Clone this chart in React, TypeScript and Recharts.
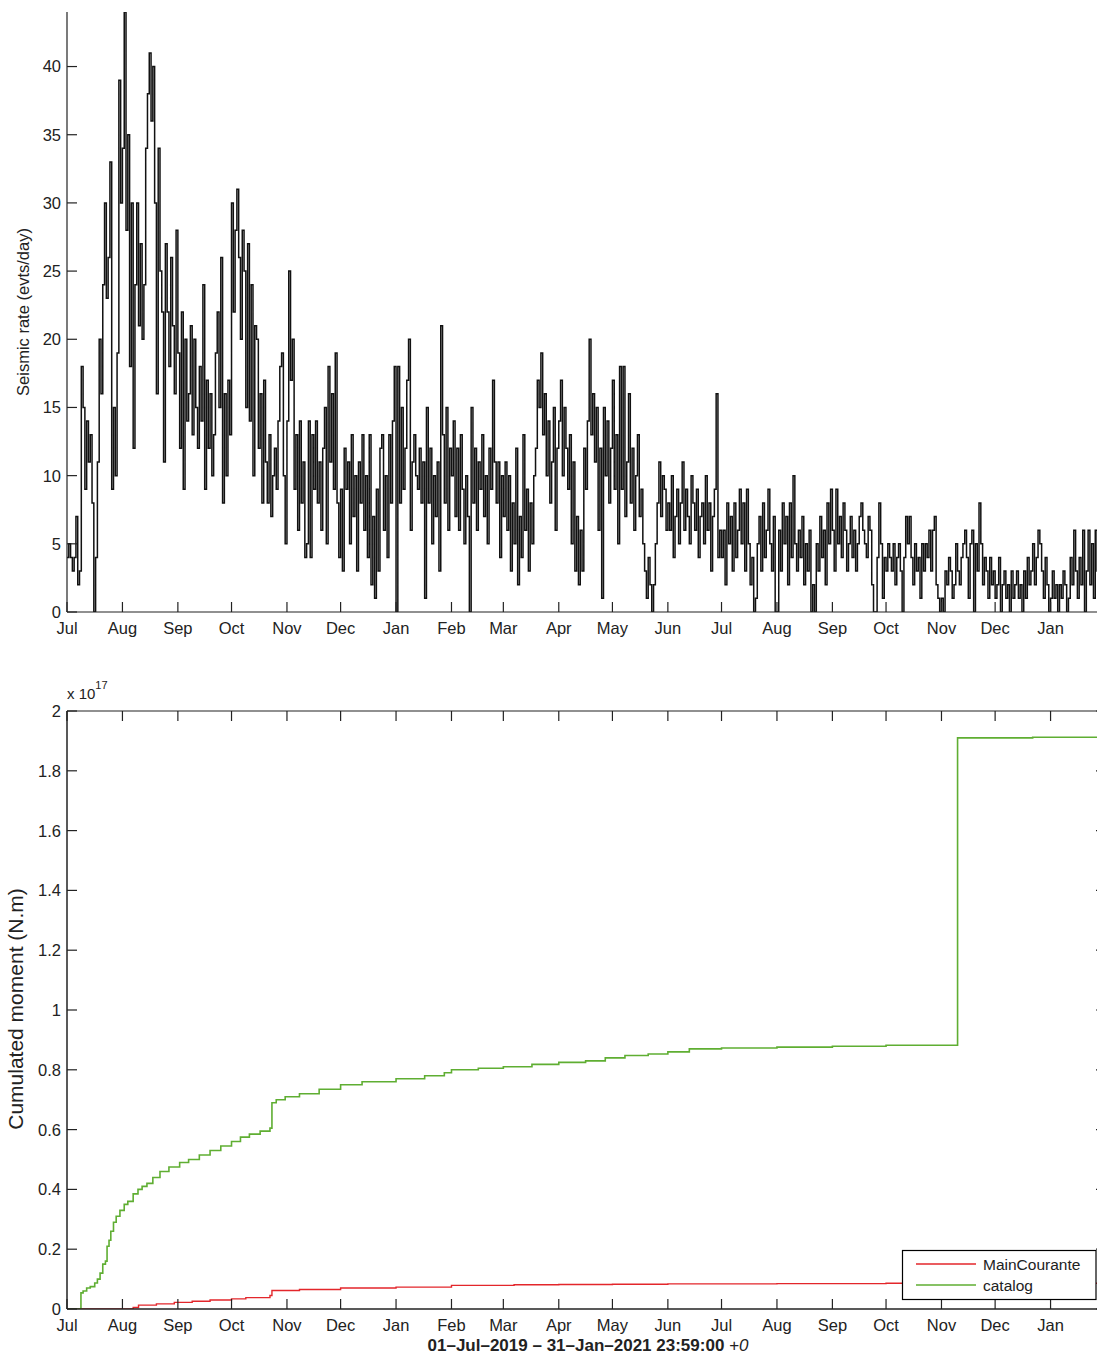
import React from 'react';
import { LineChart, Line, XAxis, YAxis } from 'recharts';

const FONT = "'Liberation Sans', Arial, Helvetica, sans-serif";
const AXIS = '#222';
const RED = '#e3262b';
const GREEN = '#5fae32';

// month ticks, day index counted from 01-Jul-2019
const MONTH_LABELS = ['Jul', 'Aug', 'Sep', 'Oct', 'Nov', 'Dec', 'Jan', 'Feb', 'Mar', 'Apr', 'May', 'Jun', 'Jul', 'Aug', 'Sep', 'Oct', 'Nov', 'Dec', 'Jan'];
const MONTH_START_DAYS = [0, 31, 62, 92, 123, 153, 184, 215, 244, 275, 305, 336, 366, 397, 428, 458, 489, 519, 550];
const RATE_TICKS = [0, 5, 10, 15, 20, 25, 30, 35, 40];
const MOMENT_TICKS = [0, 0.2, 0.4, 0.6, 0.8, 1, 1.2, 1.4, 1.6, 1.8, 2];

// daily seismic rate (evts/day), one array per month
const rateJul19 = [4, 5, 4, 3, 4, 7, 2, 3, 18, 15, 9, 14, 11, 13, 8, 0, 4, 11, 20, 16, 24, 30, 23, 26, 33, 9, 15, 10, 19, 39, 30];
const rateAug19 = [34, 44, 28, 35, 18, 30, 12, 24, 30, 21, 27, 20, 24, 34, 38, 41, 36, 40, 30, 16, 34, 25, 22, 11, 27, 22, 18, 26, 21, 16, 28];
const rateSep19 = [19, 12, 22, 9, 20, 14, 16, 21, 13, 20, 15, 12, 18, 14, 24, 9, 17, 12, 16, 10, 13, 19, 22, 15, 26, 8, 16, 10, 17, 13];
const rateOct19 = [30, 22, 28, 31, 26, 20, 28, 25, 15, 27, 14, 24, 10, 21, 20, 12, 16, 8, 17, 11, 8, 13, 7, 10, 12, 9, 14, 18, 19, 10, 5];
const rateNov19 = [14, 25, 17, 20, 9, 13, 6, 14, 8, 11, 4, 5, 14, 4, 13, 9, 14, 8, 11, 6, 12, 15, 5, 18, 11, 16, 9, 19, 8, 4];
const rateDec19 = [9, 3, 12, 9, 11, 5, 13, 7, 10, 3, 11, 8, 13, 6, 10, 4, 13, 2, 7, 1, 9, 3, 12, 13, 6, 10, 4, 13, 8, 14, 18];
const rateJan20 = [0, 18, 8, 15, 9, 12, 17, 20, 6, 11, 13, 10, 9, 12, 8, 11, 1, 15, 8, 12, 5, 10, 7, 11, 3, 21, 13, 8, 15, 6, 12];
const rateFeb20 = [10, 14, 7, 12, 6, 13, 9, 5, 10, 7, 0, 15, 8, 12, 6, 11, 9, 13, 7, 10, 5, 12, 9, 17, 11, 8, 11, 4, 10];
const rateMar20 = [7, 11, 6, 10, 3, 8, 5, 12, 2, 7, 4, 13, 6, 9, 3, 8, 5, 10, 12, 17, 15, 19, 13, 16, 10, 14, 8, 11, 15, 6, 12];
const rateApr20 = [14, 17, 10, 15, 12, 9, 13, 5, 11, 3, 7, 2, 6, 3, 12, 9, 14, 20, 13, 16, 11, 15, 6, 12, 1, 15, 10, 14, 8, 12];
const rateMay20 = [17, 9, 13, 5, 18, 9, 18, 7, 11, 16, 8, 12, 6, 10, 13, 7, 9, 5, 3, 1, 4, 2, 0, 2, 5, 8, 11, 7, 10, 9, 6];
const rateJun20 = [8, 6, 10, 4, 7, 9, 5, 8, 11, 6, 9, 7, 5, 10, 8, 6, 9, 4, 7, 8, 5, 10, 6, 8, 3, 7, 9, 16, 4, 6];
const rateJul20 = [4, 6, 2, 8, 5, 7, 3, 8, 4, 6, 9, 5, 8, 3, 9, 5, 2, 4, 0, 1, 5, 7, 3, 8, 4, 6, 9, 5, 3, 7, 0];
const rateAug20 = [0, 6, 3, 8, 5, 7, 2, 8, 4, 10, 5, 3, 6, 4, 7, 2, 5, 3, 6, 0, 2, 0, 5, 3, 7, 4, 6, 2, 8, 5, 9];
const rateSep20 = [6, 3, 9, 5, 7, 4, 8, 6, 3, 5, 7, 4, 6, 3, 5, 7, 8, 6, 5, 4, 7, 6, 2, 0, 0, 4, 8, 5, 1, 4];
const rateOct20 = [3, 5, 4, 3, 5, 2, 4, 5, 3, 0, 4, 7, 5, 7, 4, 2, 5, 3, 4, 1, 5, 3, 5, 4, 6, 3, 6, 7, 2, 1, 0];
const rateNov20 = [1, 0, 3, 2, 4, 3, 1, 2, 5, 3, 2, 4, 5, 6, 4, 1, 5, 6, 0, 5, 3, 8, 5, 2, 4, 3, 1, 4, 2, 3];
const rateDec20 = [1, 2, 4, 0, 2, 3, 1, 2, 0, 3, 1, 2, 3, 1, 2, 0, 3, 1, 4, 2, 3, 5, 2, 4, 6, 5, 3, 1, 4, 2, 0];
const rateJan21 = [1, 3, 1, 2, 0, 2, 1, 3, 2, 0, 1, 4, 2, 6, 3, 1, 4, 2, 6, 0, 3, 6, 2, 5, 1, 6, 3, 0, 5, 2, 4];

// cumulated moment, units of 1e17 N.m (day, value)
const catalogDays = [0, 4.5, 7.8, 9, 11, 13, 15.5, 17, 18.5, 20, 21.5, 22.4, 23.5, 24.5, 26, 27.5, 29.6, 32, 34, 37, 39.7, 42, 44.7, 48, 52, 57, 63, 68, 74, 80, 86, 92, 97, 102, 108, 113.5, 114.6, 117, 122, 130, 141, 153, 165, 184, 200, 211, 215, 230, 244, 260, 275, 290, 301, 312, 325, 336, 348, 366, 397, 428, 458, 498, 540, 581];
const catalogMoment = [0, 0, 0.054, 0.06, 0.07, 0.075, 0.087, 0.1, 0.12, 0.15, 0.16, 0.21, 0.23, 0.26, 0.29, 0.31, 0.33, 0.35, 0.36, 0.385, 0.4, 0.41, 0.42, 0.44, 0.46, 0.475, 0.49, 0.5, 0.515, 0.53, 0.545, 0.56, 0.575, 0.585, 0.595, 0.605, 0.69, 0.7, 0.71, 0.72, 0.735, 0.75, 0.76, 0.77, 0.78, 0.79, 0.8, 0.805, 0.81, 0.818, 0.825, 0.83, 0.84, 0.848, 0.853, 0.86, 0.87, 0.873, 0.876, 0.879, 0.882, 1.91, 1.912, 1.913];
const mainCouranteDays = [0, 37, 40, 50, 60, 70, 80, 92, 100, 113.5, 114.6, 130, 153, 184, 215, 250, 275, 305, 336, 397, 458, 581];
const mainCouranteMoment = [0, 0.005, 0.013, 0.017, 0.022, 0.026, 0.03, 0.034, 0.038, 0.045, 0.062, 0.065, 0.07, 0.073, 0.079, 0.081, 0.082, 0.083, 0.084, 0.085, 0.086, 0.087];

const rateMonths = [rateJul19, rateAug19, rateSep19, rateOct19, rateNov19, rateDec19, rateJan20, rateFeb20, rateMar20, rateApr20, rateMay20, rateJun20, rateJul20, rateAug20, rateSep20, rateOct20, rateNov20, rateDec20, rateJan21];
const rateData = rateMonths.flatMap((arr, m) => arr.map((v, i) => ({ day: MONTH_START_DAYS[m] + i, rate: v })));
const catalogData = catalogDays.map((d, i) => ({ day: d, m: catalogMoment[i] }));
const mainCouranteData = mainCouranteDays.map((d, i) => ({ day: d, m: mainCouranteMoment[i] }));

const monthLabel = (v: number) => MONTH_LABELS[MONTH_START_DAYS.indexOf(v)] ?? '';
const momentLabel = (v: number) => (Number.isInteger(v) ? String(v) : v.toFixed(1));

const BottomTick = (props: any) => {
  const { x, y, payload, fontSize } = props;
  return (
    <g>
      <line x1={x} y1={y} x2={x} y2={y - 10} stroke={AXIS} strokeWidth={1.2} />
      <text x={x} y={y + 10} dy="0.72em" textAnchor="middle" fontSize={fontSize} fontFamily={FONT} fill="#222">
        {monthLabel(payload.value)}
      </text>
    </g>
  );
};

const TopTick = (props: any) => {
  const { x, y } = props;
  return <line x1={x} y1={y} x2={x} y2={y + 10} stroke={AXIS} strokeWidth={1.2} />;
};

const LeftTick = (props: any) => {
  const { x, y, payload, fontSize, format } = props;
  return (
    <g>
      <line x1={x} y1={y} x2={x + 10} y2={y} stroke={AXIS} strokeWidth={1.2} />
      <text x={x - 6} y={y} dy="0.36em" textAnchor="end" fontSize={fontSize} fontFamily={FONT} fill="#222">
        {format ? format(payload.value) : payload.value}
      </text>
    </g>
  );
};

const RightTick = (props: any) => {
  const { x, y } = props;
  return <line x1={x} y1={y} x2={x - 10} y2={y} stroke={AXIS} strokeWidth={1.2} />;
};

function RateChart() {
  return (
    <LineChart width={1130} height={650} data={rateData} margin={{ top: 12, right: 24, bottom: 0, left: 0 }}>
      <XAxis
        type="number"
        dataKey="day"
        domain={[0, 581]}
        ticks={MONTH_START_DAYS}
        interval={0}
        allowDataOverflow
        height={38}
        tickSize={0}
        tickMargin={0}
        tickLine={false}
        axisLine={{ stroke: AXIS, strokeWidth: 1.2 }}
        tick={<BottomTick fontSize={16.5} />}
      />
      <YAxis
        type="number"
        domain={[0, 44]}
        ticks={RATE_TICKS}
        interval={0}
        allowDataOverflow
        width={67}
        tickSize={0}
        tickMargin={0}
        tickLine={false}
        axisLine={{ stroke: AXIS, strokeWidth: 1.2 }}
        tick={<LeftTick fontSize={16.5} />}
      />
      <Line type="stepAfter" dataKey="rate" stroke="#111" strokeWidth={1.5} dot={false} isAnimationActive={false} />
    </LineChart>
  );
}

function MomentChart() {
  return (
    <LineChart width={1130} height={694} margin={{ top: 41, right: 14, bottom: 15, left: 0 }}>
      <XAxis
        xAxisId="b"
        type="number"
        dataKey="day"
        domain={[0, 581]}
        ticks={MONTH_START_DAYS}
        interval={0}
        allowDataOverflow
        height={30}
        tickSize={0}
        tickMargin={0}
        tickLine={false}
        axisLine={{ stroke: AXIS, strokeWidth: 1.5 }}
        tick={<BottomTick fontSize={16.5} />}
      />
      <XAxis
        xAxisId="t"
        orientation="top"
        type="number"
        dataKey="day"
        domain={[0, 581]}
        ticks={MONTH_START_DAYS}
        interval={0}
        allowDataOverflow
        height={10}
        tickSize={0}
        tickMargin={0}
        tickLine={false}
        axisLine={{ stroke: AXIS, strokeWidth: 1.2 }}
        tick={<TopTick />}
      />
      <YAxis
        yAxisId="l"
        type="number"
        domain={[0, 2]}
        ticks={MOMENT_TICKS}
        interval={0}
        allowDataOverflow
        width={67}
        tickSize={0}
        tickMargin={0}
        tickLine={false}
        axisLine={{ stroke: AXIS, strokeWidth: 1.5 }}
        tick={<LeftTick fontSize={16.5} format={momentLabel} />}
      />
      <YAxis
        yAxisId="r"
        orientation="right"
        type="number"
        domain={[0, 2]}
        ticks={MOMENT_TICKS}
        interval={0}
        allowDataOverflow
        width={10}
        tickSize={0}
        tickMargin={0}
        tickLine={false}
        axisLine={{ stroke: AXIS, strokeWidth: 1.2 }}
        tick={<RightTick />}
      />
      <Line xAxisId="b" yAxisId="l" data={mainCouranteData} type="stepAfter" dataKey="m" name="MainCourante" stroke={RED} strokeWidth={1.4} dot={false} isAnimationActive={false} />
      <Line xAxisId="b" yAxisId="l" data={catalogData} type="stepAfter" dataKey="m" name="catalog" stroke={GREEN} strokeWidth={1.6} dot={false} isAnimationActive={false} />
    </LineChart>
  );
}

function Overlay() {
  return (
    <svg width={1097} height={1354} style={{ position: 'absolute', left: 0, top: 0, pointerEvents: 'none' }} fontFamily={FONT} fill="#222">
      <text transform="translate(23,312) rotate(-90)" textAnchor="middle" dominantBaseline="central" fontSize={16.5}>
        Seismic rate (evts/day)
      </text>
      <text transform="translate(15,1009) rotate(-90)" textAnchor="middle" dominantBaseline="central" fontSize={21}>
        Cumulated moment (N.m)
      </text>
      <text x={67} y={699} fontSize={15}>
        x 10
        <tspan dy={-10} fontSize={11}>17</tspan>
      </text>
      <text x={588} y={1351} textAnchor="middle" fontSize={17}>
        <tspan fontWeight="bold">01–Jul–2019 – 31–Jan–2021 23:59:00</tspan>
        <tspan fontStyle="italic"> +0</tspan>
      </text>
      <g>
        <rect x={902.5} y={1250.5} width={193.5} height={49} fill="#fff" stroke="#000" strokeWidth={1.2} />
        <line x1={916} y1={1264} x2={976} y2={1264} stroke={RED} strokeWidth={1.4} />
        <line x1={916} y1={1285} x2={976} y2={1285} stroke={GREEN} strokeWidth={1.6} />
        <text x={983} y={1264} dominantBaseline="central" fontSize={15.5}>MainCourante</text>
        <text x={983} y={1285} dominantBaseline="central" fontSize={15.5}>catalog</text>
      </g>
    </svg>
  );
}

export default function App() {
  return (
    <div style={{ position: 'absolute', left: 0, top: 0, width: 1097, height: 1354, overflow: 'hidden', background: '#fff' }}>
      <div style={{ position: 'absolute', left: 0, top: 0 }}>
        <RateChart />
      </div>
      <div style={{ position: 'absolute', left: 0, top: 660 }}>
        <MomentChart />
      </div>
      <Overlay />
    </div>
  );
}
